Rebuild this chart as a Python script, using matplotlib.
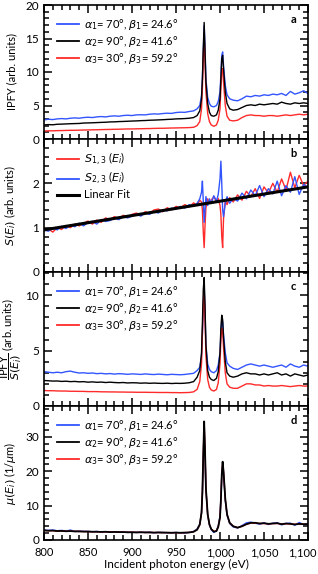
import matplotlib
matplotlib.use("Agg")
import matplotlib.pyplot as plt
import matplotlib.transforms as mtransforms
from matplotlib.ticker import MultipleLocator, FuncFormatter
from matplotlib.lines import Line2D

plt.rcParams['font.family'] = ['Lato', 'DejaVu Sans']
plt.rcParams['mathtext.fontset'] = 'dejavusans'

# incident photon energy (eV)
energy = [800, 805, 810, 815, 820, 825, 830, 835, 840, 845, 850, 855, 860, 865, 870, 875, 880, 885,
          890, 895, 900, 905, 910, 915, 920, 925, 930, 935, 940, 945, 950, 955, 960, 965, 970,
          974, 977, 979, 980, 981, 982, 983, 984, 986, 988, 990, 993, 996, 998, 1000, 1001, 1002,
          1003, 1004, 1006, 1008, 1011, 1015,
          1020, 1025, 1030, 1035, 1040, 1045, 1050, 1055, 1060, 1065, 1070, 1075, 1080, 1085, 1090,
          1095, 1100]

# panel a: IPFY
ipfy_1 = [2.85, 2.95, 2.90, 3.00, 3.05, 3.00, 3.10, 3.15, 3.10, 3.20, 3.25, 3.20, 3.30, 3.35, 3.30,
          3.40, 3.45, 3.40, 3.50, 3.55, 3.50, 3.60, 3.62, 3.60, 3.70, 3.75, 3.72, 3.80, 3.85, 3.82,
          3.95, 4.00, 3.98, 4.10, 4.20,
          4.5, 5.0, 6.5, 9.0, 13.0, 16.9, 13.5, 9.0, 6.2, 5.3, 4.9, 4.8, 5.0, 5.6, 7.0, 9.5, 12.5,
          13.0, 11.0, 8.0, 6.6, 6.0, 5.8,
          5.7, 6.0, 6.4, 6.3, 6.5, 6.4, 6.6, 6.5, 6.7, 6.6, 6.8, 6.5, 7.1, 6.7, 6.9, 7.2, 6.8]
ipfy_2 = [2.10, 2.15, 2.12, 2.20, 2.22, 2.25, 2.28, 2.30, 2.32, 2.38, 2.40, 2.42, 2.45, 2.48, 2.50,
          2.55, 2.56, 2.60, 2.62, 2.65, 2.68, 2.70, 2.74, 2.76, 2.80, 2.82, 2.85, 2.88, 2.92, 2.95,
          3.00, 3.02, 3.05, 3.10, 3.20,
          3.5, 4.2, 6.0, 9.0, 13.5, 17.4, 13.0, 8.5, 5.3, 4.0, 3.5, 3.4, 3.6, 4.3, 6.0, 9.0, 12.0,
          12.5, 10.5, 7.0, 5.3, 4.5, 4.3,
          4.4, 4.7, 5.0, 5.1, 5.0, 5.2, 5.1, 5.2, 5.3, 5.2, 5.5, 5.3, 5.2, 5.4, 5.3, 5.4, 5.3]
ipfy_3 = [1.20, 1.22, 1.22, 1.25, 1.26, 1.28, 1.30, 1.30, 1.32, 1.34, 1.35, 1.37, 1.38, 1.40, 1.42,
          1.43, 1.45, 1.46, 1.48, 1.50, 1.50, 1.52, 1.53, 1.55, 1.56, 1.58, 1.60, 1.60, 1.62, 1.64,
          1.65, 1.67, 1.68, 1.70, 1.75,
          2.0, 2.6, 4.5, 7.5, 12.0, 15.8, 11.5, 7.0, 3.8, 2.6, 2.1, 1.9, 2.1, 2.8, 4.5, 7.5, 10.3,
          10.5, 8.5, 5.0, 3.4, 2.8, 2.7,
          2.8, 3.2, 3.5, 3.6, 3.5, 3.5, 3.4, 3.5, 3.5, 3.4, 3.5, 3.6, 3.5, 3.6, 3.7, 3.6, 3.7]

# panel b: S(Ei)
s_13 = [0.93, 0.97, 0.90, 1.00, 0.96, 1.05, 1.00, 1.08, 1.04, 1.10, 1.15, 1.08, 1.17, 1.12, 1.22,
        1.18, 1.25, 1.20, 1.28, 1.24, 1.30, 1.33, 1.28, 1.36, 1.32, 1.40, 1.42, 1.36, 1.45, 1.40,
        1.48, 1.45, 1.52, 1.47, 1.56,
        1.50, 1.62, 1.58, 1.40, 0.90, 0.55, 1.05, 1.45, 1.65, 1.55, 1.62, 1.70, 1.58, 1.66, 1.50,
        1.30, 0.80, 0.55, 1.20, 1.62, 1.52, 1.68, 1.58,
        1.74, 1.62, 1.82, 1.70, 1.88, 1.66, 1.92, 1.78, 2.00, 1.80, 2.10, 1.85, 2.25, 1.90, 2.18,
        1.95, 2.05]
s_23 = [0.95, 0.92, 1.00, 0.95, 1.03, 0.98, 1.06, 1.02, 1.10, 1.04, 1.12, 1.14, 1.08, 1.18, 1.14,
        1.16, 1.22, 1.18, 1.25, 1.22, 1.26, 1.30, 1.26, 1.33, 1.30, 1.36, 1.33, 1.40, 1.38, 1.44,
        1.42, 1.48, 1.44, 1.52, 1.48,
        1.55, 1.65, 1.80, 2.05, 1.60, 1.12, 1.40, 1.70, 1.50, 1.65, 1.55, 1.72, 1.60, 1.75, 2.10,
        2.50, 2.00, 1.40, 1.25, 1.55, 1.70, 1.55, 1.66,
        1.60, 1.78, 1.65, 1.85, 1.72, 1.95, 1.70, 1.88, 1.76, 2.05, 1.72, 1.95, 1.80, 2.15, 1.75,
        1.98, 1.90]
fit_e = [800, 1100]
fit_s = [0.95, 1.92]

# panel c: IPFY / S(Ei)
norm_1 = [3.10, 3.05, 3.00, 3.05, 3.00, 3.10, 3.15, 3.05, 2.98, 3.00, 2.95, 2.98, 2.92, 2.95, 2.90,
          2.93, 2.88, 2.92, 2.90, 2.86, 2.90, 2.88, 2.85, 2.90, 2.86, 2.84, 2.88, 2.85, 2.82, 2.86,
          2.84, 2.82, 2.85, 2.90, 2.95,
          3.2, 3.5, 4.5, 6.5, 9.0, 10.8, 8.5, 5.5, 3.8, 3.3, 3.1, 3.0, 3.2, 3.7, 4.8, 6.5, 7.8,
          7.6, 6.5, 4.8, 3.9, 3.6, 3.4,
          3.3, 3.5, 3.7, 3.8, 3.7, 3.6, 3.7, 3.6, 3.5, 3.6, 3.7, 3.5, 3.8, 3.6, 3.5, 3.7, 3.6]
norm_2 = [2.30, 2.28, 2.25, 2.26, 2.22, 2.24, 2.20, 2.22, 2.18, 2.20, 2.15, 2.18, 2.14, 2.16, 2.12,
          2.15, 2.12, 2.10, 2.12, 2.08, 2.10, 2.09, 2.06, 2.08, 2.05, 2.07, 2.05, 2.04, 2.06, 2.03,
          2.05, 2.04, 2.06, 2.10, 2.20,
          2.6, 3.2, 4.8, 7.5, 10.5, 11.6, 9.0, 5.5, 3.2, 2.6, 2.4, 2.3, 2.5, 3.1, 4.8, 7.0, 8.2,
          7.8, 6.2, 4.0, 3.0, 2.7, 2.6,
          2.7, 2.9, 3.0, 2.9, 2.9, 2.8, 2.9, 2.8, 2.9, 3.0, 2.8, 2.9, 2.7, 2.9, 2.8, 2.7, 2.8]
norm_3 = [1.40, 1.38, 1.38, 1.36, 1.35, 1.35, 1.33, 1.33, 1.32, 1.32, 1.30, 1.30, 1.30, 1.28, 1.28,
          1.27, 1.27, 1.26, 1.26, 1.25, 1.25, 1.24, 1.24, 1.24, 1.23, 1.23, 1.22, 1.22, 1.22, 1.21,
          1.21, 1.20, 1.21, 1.22, 1.28,
          1.5, 2.2, 3.8, 6.5, 9.0, 10.4, 7.8, 4.5, 2.4, 1.7, 1.45, 1.35, 1.5, 2.1, 3.8, 6.0, 7.0,
          6.8, 5.3, 3.0, 2.0, 1.7, 1.6,
          1.6, 1.8, 2.0, 2.0, 1.9, 1.9, 1.8, 1.85, 1.8, 1.8, 1.85, 1.8, 1.75, 1.8, 1.85, 1.8, 1.8]

# panel d: mu(Ei) in 1/um
mu_1 = [2.9, 2.8, 2.9, 2.7, 2.8, 2.6, 2.9, 2.5, 2.6, 2.5, 2.5, 2.4, 2.5, 2.3, 2.4, 2.4, 2.3, 2.3,
        2.4, 2.2, 2.3, 2.2, 2.3, 2.2, 2.3, 2.1, 2.2, 2.2, 2.1, 2.1, 2.2, 2.1, 2.0, 2.2, 2.5,
        3.2, 4.6, 7.8, 13.5, 24.0, 33.5, 25.0, 14.5, 7.2, 4.4, 3.0, 2.2, 2.8, 4.2, 7.0, 12.0, 18.5,
        22.0, 19.5, 11.5, 7.2, 4.8, 3.8,
        3.5, 4.2, 5.0, 5.2, 4.9, 4.6, 5.0, 4.5, 4.9, 5.0, 4.4, 4.8, 4.9, 4.3, 5.1, 4.5, 4.9]
mu_2 = [2.8, 2.7, 2.75, 2.6, 2.65, 2.55, 2.6, 2.5, 2.5, 2.45, 2.45, 2.4, 2.4, 2.35, 2.4, 2.3, 2.35,
        2.3, 2.3, 2.25, 2.25, 2.2, 2.25, 2.2, 2.2, 2.15, 2.2, 2.15, 2.15, 2.1, 2.15, 2.1, 2.15, 2.2,
        2.4,
        3.0, 4.5, 8.0, 14.0, 25.0, 34.5, 26.0, 15.0, 7.5, 4.5, 3.2, 2.4, 2.6, 3.8, 6.5, 11.5, 19.0,
        22.8, 20.0, 12.0, 7.5, 5.0, 4.0,
        3.6, 4.0, 4.6, 5.0, 5.0, 4.8, 4.9, 4.7, 4.8, 4.9, 4.6, 4.8, 4.7, 4.5, 4.7, 4.6, 4.6]
mu_3 = [2.75, 2.72, 2.7, 2.62, 2.6, 2.58, 2.55, 2.52, 2.5, 2.47, 2.45, 2.42, 2.4, 2.38, 2.36, 2.34,
        2.32, 2.3, 2.28, 2.26, 2.25, 2.24, 2.22, 2.21, 2.2, 2.18, 2.17, 2.16, 2.15, 2.14, 2.13, 2.12,
        2.14, 2.2, 2.4,
        3.0, 4.4, 7.9, 13.8, 24.5, 34.0, 25.5, 14.8, 7.4, 4.5, 3.2, 2.5, 2.7, 3.9, 6.6, 11.6, 18.8,
        22.5, 19.8, 11.8, 7.4, 5.0, 4.0,
        3.6, 4.0, 4.6, 4.9, 4.9, 4.8, 4.8, 4.7, 4.8, 4.8, 4.7, 4.7, 4.7, 4.6, 4.6, 4.6, 4.6]

angle_labels = [r'$\alpha_1$= 70°, $\beta_1$= 24.6°',
                r'$\alpha_2$= 90°, $\beta_2$= 41.6°',
                r'$\alpha_3$= 30°, $\beta_3$= 59.2°']

BLUE = '#3355ff'
RED = '#ff2a2a'
BLACK = '#000000'
LW = 1.0

fig = plt.figure(figsize=(3.18, 5.74), dpi=100)
left, width = 44 / 318, 264 / 318
tops = [5, 139, 272, 406, 540]
axes = []
for i in range(4):
    b = 1 - tops[i + 1] / 574
    h = (tops[i + 1] - tops[i]) / 574
    axes.append(fig.add_axes([left, b, width, h]))


def style(ax, major, minor, labx=-0.1):
    ax.set_xlim(800, 1100)
    ax.set_xticks([800, 850, 900, 950, 1000, 1050, 1100])
    ax.xaxis.set_minor_locator(MultipleLocator(10))
    ax.yaxis.set_major_locator(MultipleLocator(major))
    ax.yaxis.set_minor_locator(MultipleLocator(minor))
    ax.tick_params(which='both', direction='in', top=True, right=True, labelsize=8.5, width=1.1)
    ax.tick_params(which='major', length=6)
    ax.tick_params(which='minor', length=3.5)
    ax.tick_params(axis='x', labelsize=8, pad=5)
    for s in ax.spines.values():
        s.set_linewidth(1.2)
    ax.yaxis.set_label_coords(labx, 0.5)


def angle_legend(ax):
    handles = [Line2D([], [], color=c, lw=1.3) for c in (BLUE, BLACK, RED)]
    ax.legend(handles, angle_labels, loc='upper left', frameon=False, fontsize=8,
              handlelength=2.0, handletextpad=0.4, labelspacing=0.2, borderaxespad=0.3,
              bbox_to_anchor=(0.02, 0.97))


# a
ax = axes[0]
ax.plot(energy, ipfy_1, color=BLUE, lw=LW)
ax.plot(energy, ipfy_3, color=RED, lw=LW)
ax.plot(energy, ipfy_2, color=BLACK, lw=LW)
ax.set_ylim(0, 20)
style(ax, 5, 1)
ax.set_ylabel('IPFY (arb. units)', fontsize=8)
angle_legend(ax)

# b
ax = axes[1]
ax.plot(energy, s_13, color=RED, lw=LW)
ax.plot(energy, s_23, color=BLUE, lw=LW)
ax.plot(fit_e, fit_s, color=BLACK, lw=2.2)
ax.set_ylim(0, 3)
style(ax, 1, 0.2)
ax.set_yticks([0, 1, 2])
ax.set_ylabel(r'$S(E_i)$ (arb. units)', fontsize=8)
ax.legend([Line2D([], [], color=RED, lw=1.3), Line2D([], [], color=BLUE, lw=1.3),
           Line2D([], [], color=BLACK, lw=2.2)],
          [r'$S_{1,3}$ ($E_i$)', r'$S_{2,3}$ ($E_i$)', 'Linear Fit'],
          loc='upper left', frameon=False, fontsize=8, handlelength=2.0, handletextpad=0.4,
          labelspacing=0.2, borderaxespad=0.3, bbox_to_anchor=(0.02, 0.97))

# c
ax = axes[2]
ax.plot(energy, norm_1, color=BLUE, lw=LW)
ax.plot(energy, norm_3, color=RED, lw=LW)
ax.plot(energy, norm_2, color=BLACK, lw=LW)
ax.set_ylim(0, 12.1)
style(ax, 5, 1, labx=-0.075)
ax.set_ylabel(r'$\dfrac{\mathrm{IPFY}}{S(E_i)}$ (arb. units)', fontsize=8)
angle_legend(ax)

# d
ax = axes[3]
ax.plot(energy, mu_1, color=BLUE, lw=LW)
ax.plot(energy, mu_3, color=RED, lw=LW)
ax.plot(energy, mu_2, color=BLACK, lw=1.3)
ax.set_ylim(0, 39)
style(ax, 10, 2)
ax.set_ylabel(r'$\mu(E_i)$ (1/$\mu$m)', fontsize=8)
angle_legend(ax)
ax.set_xlabel('Incident photon energy (eV)', fontsize=8.5, labelpad=1)
ax.xaxis.set_major_formatter(FuncFormatter(lambda v, p: f'{int(v):,}'))

for ax in axes[:3]:
    ax.tick_params(labelbottom=False)

for ax, lab in zip(axes, 'abcd'):
    ax.text(0.945, 0.89, lab, transform=ax.transAxes, fontsize=8, fontweight='bold',
            ha='center', va='center')

# nudge the last x tick label so it stays inside the figure
fig.canvas.draw()
for t in axes[3].get_xticklabels():
    if t.get_text() == '1,100':
        t.set_horizontalalignment('right')
        t.set_transform(t.get_transform() + mtransforms.ScaledTranslation(9 / 100, 0, fig.dpi_scale_trans))

fig.savefig('out.png', dpi=100)
